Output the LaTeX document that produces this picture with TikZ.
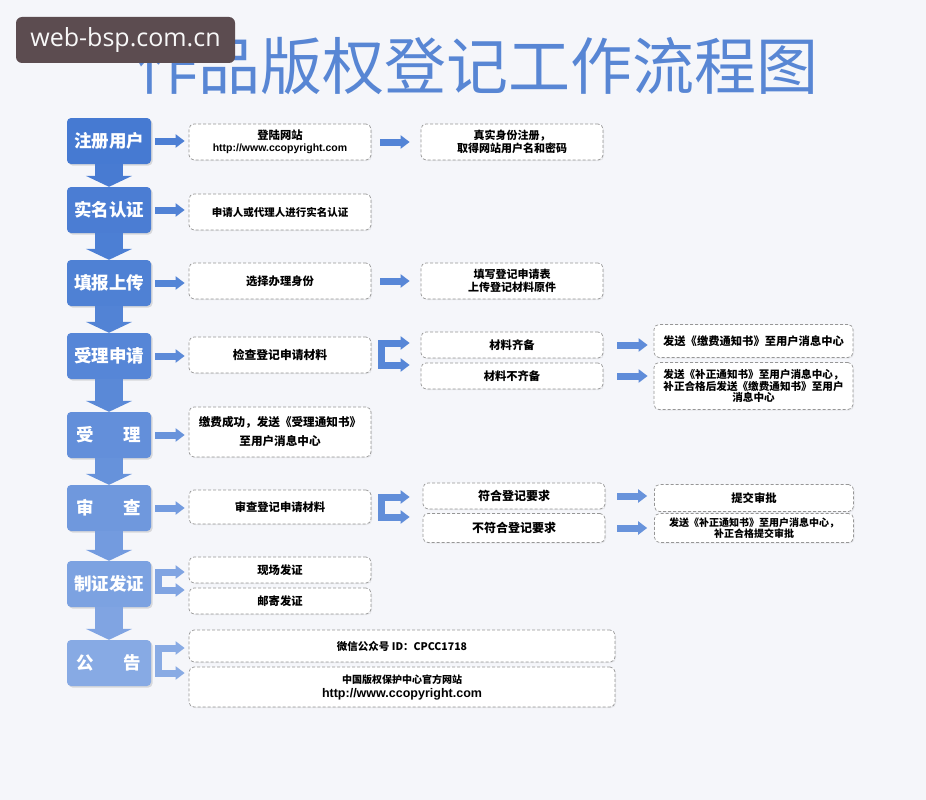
\documentclass[tikz,border=0pt]{standalone}
\usepackage{fontspec}
\setmainfont{Noto Sans CJK SC}
\newfontfamily\markfont{Open Sans}
\newfontfamily\urlfont{Liberation Sans}
\usetikzlibrary{arrows.meta,shadows}
\definecolor{pagebg}{RGB}{245,246,250}
\definecolor{stagedark}{RGB}{70,122,210}
\definecolor{stagelight}{RGB}{160,188,235}
\definecolor{titleblue}{RGB}{88,134,212}
\definecolor{markgrey}{RGB}{92,76,80}
\definecolor{noteline}{RGB}{150,150,150}

\tikzset{
  stage/.style={rounded corners=4pt, minimum width=84pt, minimum height=46pt, inner sep=0pt,
    text=white, font=\fontsize{17.5}{20}\selectfont\bfseries,
    drop shadow={shadow xshift=1.5pt, shadow yshift=-1.5pt, opacity=.25}},
  note/.style={draw=noteline, dash pattern=on 3pt off 2pt, line width=.7pt, rounded corners=5pt,
    fill=white, minimum width=182pt, inner sep=1pt, align=center,
    font=\fontsize{11.3}{13}\selectfont\bfseries,
    drop shadow={shadow xshift=1pt, shadow yshift=-1pt, opacity=.12}},
  godown/.style={line width=28pt, -{Triangle[width=46pt,length=11pt]}},
  goright/.style={line width=7pt, -{Triangle[width=13pt,length=9pt]}},
  forkarr/.style={line width=7pt, {Triangle[width=13pt,length=9pt]}-{Triangle[width=13pt,length=9pt]}}
}

\begin{document}
\begin{tikzpicture}[x=1pt,y=-1pt]
  \fill[pagebg] (0,0) rectangle (926,800);
  \useasboundingbox (0,0) rectangle (926,800);

  % title and mark
  \node[text=titleblue, font=\fontsize{62}{62}\selectfont] (title) at (477,66) {作品版权登记工作流程图};
  \node[fill=markgrey, rounded corners=6pt, minimum width=219pt, minimum height=46pt, inner sep=0pt,
    text=markgrey!4, font=\markfont\fontsize{25}{25}\selectfont] (mark) at (125.5,40) {web-bsp.com.cn};

  % stages
  \node[stage, fill=stagedark] (s1) at (109,141) {注册用户};
  \node[stage, fill=stagedark!95!stagelight] (s2) at (109,210) {实名认证};
  \node[stage, fill=stagedark!90!stagelight] (s3) at (109,283) {填报上传};
  \node[stage, fill=stagedark!82!stagelight] (s4) at (109,356) {受理申请};
  \node[stage, fill=stagedark!68!stagelight] (s5) at (109,435) {受\hspace{1.7em}理};
  \node[stage, fill=stagedark!55!stagelight] (s6) at (109,508) {审\hspace{1.7em}查};
  \node[stage, fill=stagedark!40!stagelight] (s7) at (109,584) {制证发证};
  \node[stage, fill=stagedark!28!stagelight] (s8) at (109,663) {公\hspace{1.7em}告};

  \foreach \a/\b/\c in {s1/s2/98, s2/s3/93, s3/s4/87, s4/s5/78, s5/s6/64, s6/s7/50, s7/s8/36}
    \draw[godown, draw=stagedark!\c!stagelight] (\a.south) -- (\b.north);

  % second column
  \node[note, minimum height=36pt] (a1) at (280,142) {登陆网站\\[-1pt]{\urlfont\fontsize{10.5}{12}\selectfont http://www.ccopyright.com}};
  \node[note, minimum height=36pt, font=\fontsize{10.5}{12}\selectfont\bfseries] (a2) at (280,212) {申请人或代理人进行实名认证};
  \node[note, minimum height=36pt] (a3) at (280,281) {选择办理身份};
  \node[note, minimum height=36pt, font=\fontsize{11.8}{13}\selectfont\bfseries] (a4) at (280,355) {检查登记申请材料};
  \node[note, minimum height=50pt, font=\fontsize{11.6}{19}\selectfont\bfseries] (a5) at (280,432) {缴费成功，发送《受理通知书》\\至用户消息中心};
  \node[note, minimum height=34pt] (a6) at (280,507) {审查登记申请材料};
  \node[note, minimum height=26pt] (a7) at (280,570) {现场发证};
  \node[note, minimum height=26pt] (a8) at (280,601) {邮寄发证};
  \node[note, minimum width=426pt, minimum height=32pt, font=\fontsize{10.5}{12}\selectfont\bfseries] (a9) at (402,646) {微信公众号 ID：CPCC1718};
  \node[note, minimum width=426pt, minimum height=40pt, font=\fontsize{10}{14}\selectfont\bfseries] (a10) at (402,687) {中国版权保护中心官方网站\\{\urlfont\fontsize{12.5}{14}\selectfont http://www.ccopyright.com}};

  % third column
  \node[note, minimum height=36pt, font=\fontsize{11}{13}\selectfont\bfseries] (b1) at (512,142) {真实身份注册，\\取得网站用户名和密码};
  \node[note, minimum height=36pt, font=\fontsize{11}{13}\selectfont\bfseries] (b3) at (512,281) {填写登记申请表\\上传登记材料原件};
  \node[note, minimum height=26pt] (b4a) at (512,345) {材料齐备};
  \node[note, minimum height=26pt] (b4b) at (512,376) {材料不齐备};
  \node[note, minimum height=26pt, font=\fontsize{12}{13}\selectfont\bfseries] (b6a) at (514,496) {符合登记要求};
  \node[note, minimum height=29pt, font=\fontsize{12}{13}\selectfont\bfseries] (b6b) at (514,528) {不符合登记要求};

  % fourth column
  \node[note, minimum width=199pt, minimum height=33pt] (c4a) at (753.5,341) {发送《缴费通知书》至用户消息中心};
  \node[note, minimum width=199pt, minimum height=47pt, font=\fontsize{10.6}{11.5}\selectfont\bfseries] (c4b) at (753.5,386) {发送《补正通知书》至用户消息中心，\\补正合格后发送《缴费通知书》至用户\\消息中心};
  \node[note, minimum width=199pt, minimum height=27pt] (c6a) at (754,498) {提交审批};
  \node[note, minimum width=199pt, minimum height=29pt, font=\fontsize{10}{11.5}\selectfont\bfseries] (c6b) at (754,528) {发送《补正通知书》至用户消息中心，\\补正合格提交审批};

  % stage -> note arrows
  \draw[goright, draw=stagedark!92!stagelight, shorten <=4pt, shorten >=4pt] (s1.east) -- (s1.east -| a1.west);
  \draw[goright, draw=stagedark!88!stagelight, shorten <=4pt, shorten >=4pt] (s2.east) -- (s2.east -| a2.west);
  \draw[goright, draw=stagedark!84!stagelight, shorten <=4pt, shorten >=4pt] (s3.east) -- (s3.east -| a3.west);
  \draw[goright, draw=stagedark!76!stagelight, shorten <=4pt, shorten >=4pt] (s4.east) -- (s4.east -| a4.west);
  \draw[goright, draw=stagedark!62!stagelight, shorten <=4pt, shorten >=4pt] (s5.east) -- (s5.east -| a5.west);
  \draw[goright, draw=stagedark!50!stagelight, shorten <=4pt, shorten >=4pt] (s6.east) -- (s6.east -| a6.west);
  \draw[forkarr, draw=stagedark!36!stagelight] ([xshift=-4pt,yshift=-2pt]a7.west) -- ++(-26.5,0) |- ([xshift=-4pt,yshift=11pt]a8.west);
  \draw[forkarr, draw=stagedark!26!stagelight] ([xshift=-4pt,yshift=-2pt]a9.west) -- ++(-26.5,0) |- ([xshift=-4pt,yshift=14pt]a10.west);

  % note -> note arrows
  \draw[goright, draw=stagedark!85!stagelight, shorten <=9pt, shorten >=11pt] (a1.east) -- (a1.east -| b1.west);
  \draw[goright, draw=stagedark!80!stagelight, shorten <=9pt, shorten >=11pt] (a3.east) -- (a3.east -| b3.west);
  \draw[forkarr, draw=stagedark!82!stagelight] ([xshift=-11pt,yshift=2pt]b4a.west) -- ++(-28.5,0) |- ([xshift=-11pt,yshift=11pt]b4b.west);
  \draw[forkarr, draw=stagedark!70!stagelight] ([xshift=-13pt,yshift=-1pt]b6a.west) -- ++(-28.5,0) |- ([xshift=-13pt,yshift=11pt]b6b.west);
  \draw[goright, draw=stagedark!72!stagelight, shorten <=14pt, shorten >=6pt] (b4a.east) -- (b4a.east -| c4a.west);
  \draw[goright, draw=stagedark!72!stagelight, shorten <=14pt, shorten >=6pt] (b4b.east) -- (b4b.east -| c4b.west);
  \draw[goright, draw=stagedark!62!stagelight, shorten <=12pt, shorten >=7pt] (b6a.east) -- (b6a.east -| c6a.west);
  \draw[goright, draw=stagedark!62!stagelight, shorten <=12pt, shorten >=7pt] (b6b.east) -- (b6b.east -| c6b.west);
\end{tikzpicture}
\end{document}
